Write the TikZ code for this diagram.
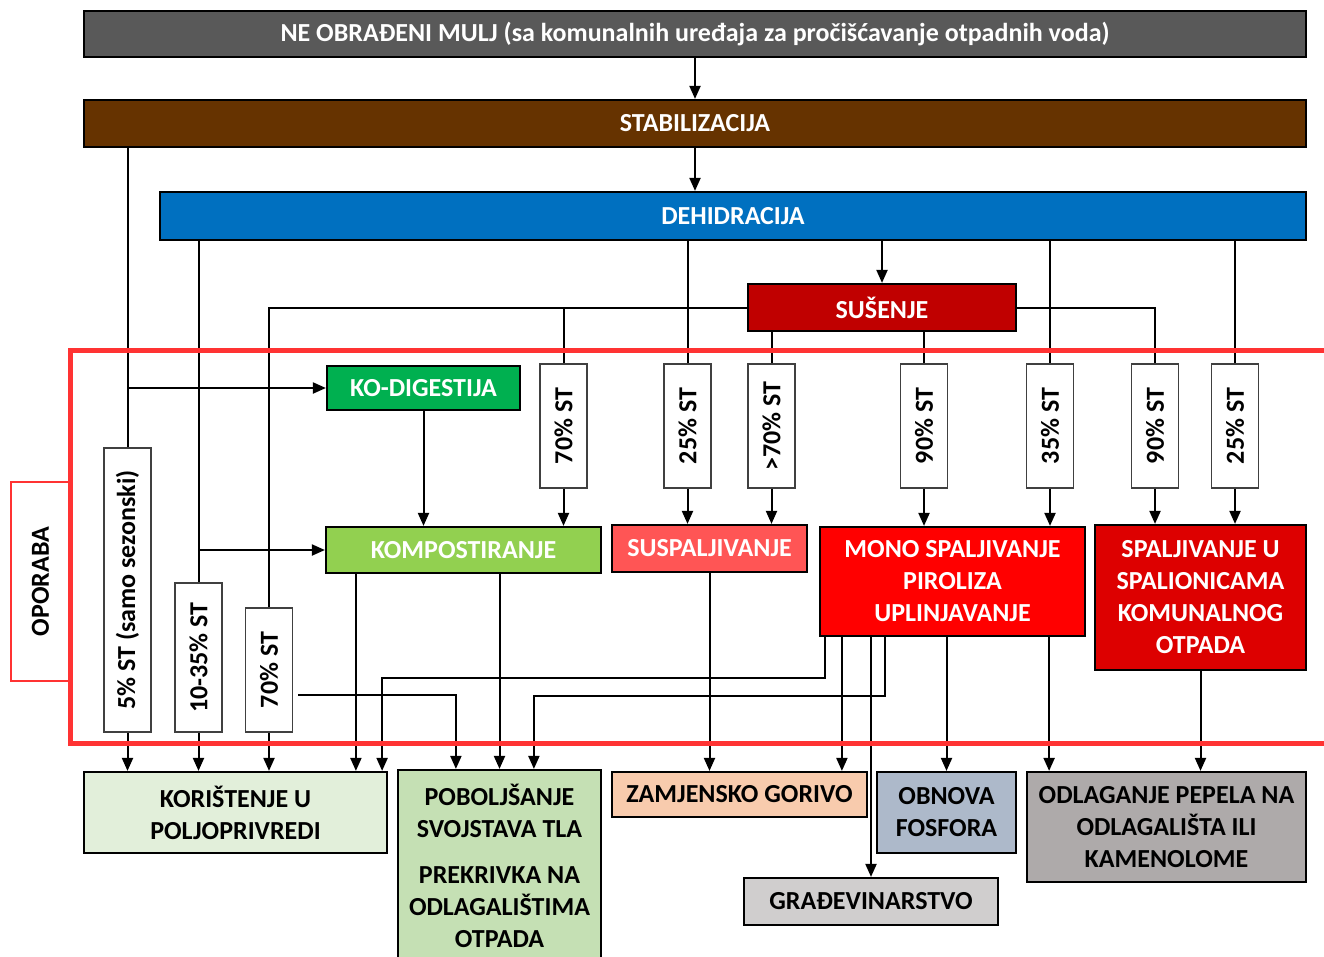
\documentclass[tikz,border=0pt]{standalone}
\usepackage{fontspec}
\setmainfont{Carlito}
\usepackage{graphicx}
\usetikzlibrary{positioning, arrows.meta}
\definecolor{mulj}{HTML}{595959}
\definecolor{stab}{HTML}{663300}
\definecolor{dehid}{HTML}{0070C0}
\definecolor{sus}{HTML}{C00000}
\definecolor{kodig}{HTML}{00B050}
\definecolor{komp}{HTML}{92D050}
\definecolor{susp}{HTML}{FF5555}
\definecolor{mono}{HTML}{FF0000}
\definecolor{spal}{HTML}{DD0000}
\definecolor{kor}{HTML}{E2EFDA}
\definecolor{pob}{HTML}{C5E0B4}
\definecolor{zam}{HTML}{F8CBAD}
\definecolor{obn}{HTML}{ADB9CA}
\definecolor{odl}{HTML}{AEAAAA}
\definecolor{gra}{HTML}{D0CECE}
\definecolor{frame}{HTML}{FF3333}
\tikzset{
    >={Triangle[width=11pt, length=13pt]}, % filled arrow heads
    every node/.style={font=\fontsize{26}{32}\selectfont\bfseries, align=center, inner sep=0pt}, % bold text everywhere
    box/.style={draw=black, line width=2.2pt, text=white}, % coloured process boxes
    outbox/.style={draw=black, line width=2.2pt, text=black}, % boxes at the bottom
    stbox/.style={draw=black!75, line width=1.3pt, fill=white, minimum width=47}, % small dry matter boxes
    link/.style={line width=2pt}, % connectors
}

\begin{document}
\begin{tikzpicture}[x=1pt, y=-1pt]
    \useasboundingbox (0,0) rectangle (1324,956);
    % main line
    \node[box, fill=mulj, minimum width=1222, minimum height=46] (mulj) at (695,34) {NE OBRAĐENI MULJ (sa komunalnih uređaja za pročišćavanje otpadnih voda)};
    \node[box, fill=stab, minimum width=1222, minimum height=47] (stab) at (695,123.5) {STABILIZACIJA};
    \node[box, fill=dehid, minimum width=1146, minimum height=48] (dehid) at (733,216) {DEHIDRACIJA};
    \node[box, fill=sus, minimum width=268, minimum height=47] (sus) at (882,307.5) {SUŠENJE};
    % treatment
    \node[box, fill=kodig, minimum width=193, minimum height=44] (kodig) at (423.5,388) {KO-DIGESTIJA};
    \node[box, fill=komp, minimum width=275, minimum height=46] (komp) at (463.5,550) {KOMPOSTIRANJE};
    \node[box, fill=susp, minimum width=195, minimum height=47] (susp) at (709.5,548.5) {SUSPALJIVANJE};
    \node[box, fill=mono, minimum width=265, minimum height=109] (mono) at (952.5,581.5) {MONO SPALJIVANJE\\PIROLIZA\\UPLINJAVANJE};
    \node[box, fill=spal, minimum width=211, minimum height=145] (spal) at (1200.5,597.5) {SPALJIVANJE U\\SPALIONICAMA\\KOMUNALNOG\\OTPADA};
    % dry matter
    \node[stbox, minimum height=284] (st5) at (127.5,590) {\rotatebox{90}{5\% ST (samo sezonski)}};
    \node[stbox, minimum height=149] (st1035) at (198.5,657.5) {\rotatebox{90}{10-35\% ST}};
    \node[stbox, minimum height=124] (st70a) at (269,670) {\rotatebox{90}{70\% ST}};
    \node[stbox, minimum height=124] (st70b) at (563.5,426) {\rotatebox{90}{70\% ST}};
    \node[stbox, minimum height=124] (st25a) at (687.5,426) {\rotatebox{90}{25\% ST}};
    \node[stbox, minimum height=124] (st70c) at (771.5,426) {\rotatebox{90}{>70\% ST}};
    \node[stbox, minimum height=124] (st90a) at (924,426) {\rotatebox{90}{90\% ST}};
    \node[stbox, minimum height=124] (st35) at (1050,426) {\rotatebox{90}{35\% ST}};
    \node[stbox, minimum height=124] (st90b) at (1155,426) {\rotatebox{90}{90\% ST}};
    \node[stbox, minimum height=124] (st25b) at (1235,426) {\rotatebox{90}{25\% ST}};
    % end use
    \node[outbox, fill=kor, minimum width=303, minimum height=81] (kor) at (235.5,812.5) {KORIŠTENJE U\\POLJOPRIVREDI};
    \node[outbox, fill=pob, minimum width=203, minimum height=192] (pob) at (499.5,866) {POBOLJŠANJE\\SVOJSTAVA TLA\\[14pt]PREKRIVKA NA\\ODLAGALIŠTIMA\\OTPADA};
    \node[outbox, fill=zam, minimum width=255, minimum height=45] (zam) at (739.5,794.5) {ZAMJENSKO GORIVO};
    \node[outbox, fill=obn, minimum width=139, minimum height=81] (obn) at (946.5,812.5) {OBNOVA\\FOSFORA};
    \node[outbox, fill=odl, minimum width=279, minimum height=110] (odl) at (1166.5,827) {ODLAGANJE PEPELA NA\\ODLAGALIŠTA ILI\\KAMENOLOME};
    \node[outbox, fill=gra, minimum width=254, minimum height=47] (gra) at (871,901.5) {GRAĐEVINARSTVO};
    \node[draw=frame, line width=1.5pt, minimum width=59, minimum height=199] (oporaba) at (40.5,581.5) {\rotatebox{90}{OPORABA}};

    % top part
    \draw[link, ->] (mulj.south) -- (stab.north);
    \draw[link, ->] (stab.south) -- (stab.south |- dehid.north);
    \draw[link, ->] (dehid.south -| sus.north) -- (sus.north);
    \draw[link] (stab.south -| st5.north) -- (st5.north);
    \draw[link, ->] (st5.north |- kodig.west) -- (kodig.west);
    \draw[link] (dehid.south -| st1035.north) -- (st1035.north);
    \draw[link, ->] (st1035.north |- komp.west) -- (komp.west);
    \draw[link] (sus.west) -| (st70a.north);
    \draw[link] (sus.west -| st70b.north) -- (st70b.north);
    \draw[link] (dehid.south -| st25a.north) -- (st25a.north);
    \draw[link] (sus.south -| st70c.north) -- (st70c.north);
    \draw[link] (sus.south -| st90a.north) -- (st90a.north);
    \draw[link] (dehid.south -| st35.north) -- (st35.north);
    \draw[link] (sus.east) -| (st90b.north);
    \draw[link] (dehid.south -| st25b.north) -- (st25b.north);
    % into treatment
    \draw[link, ->] (kodig.south) -- (kodig.south |- komp.north);
    \draw[link, ->] (st70b.south) -- (st70b.south |- komp.north);
    \draw[link, ->] (st25a.south) -- (st25a.south |- susp.north);
    \draw[link, ->] (st70c.south) -- (st70c.south |- susp.north);
    \draw[link, ->] (st90a.south) -- (st90a.south |- mono.north);
    \draw[link, ->] (st35.south) -- (st35.south |- mono.north);
    \draw[link, ->] (st90b.south) -- (st90b.south |- spal.north);
    \draw[link, ->] (st25b.south) -- (st25b.south |- spal.north);
    % to end use
    \draw[link, ->] (st5.south) -- (st5.south |- kor.north);
    \draw[link, ->] (st1035.south) -- (st1035.south |- kor.north);
    \draw[link, ->] (st70a.south) -- (st70a.south |- kor.north);
    \draw[link, ->] ([xshift=5, yshift=-25]st70a.east) -| ([xshift=59]pob.north west);
    \draw[link, ->] ([xshift=31]komp.south west) -- ([xshift=31]komp.south west |- kor.north);
    \draw[link, ->] (komp.south -| pob.north) -- (pob.north);
    \draw[link, ->] (susp.south) -- (susp.south |- zam.north);
    \draw[link, ->] ([xshift=6]mono.south west) -- ++(0,41) -| ([xshift=-6]kor.north east);
    \draw[link, ->] ([xshift=23]mono.south west) -- ([xshift=23]mono.south west |- zam.north);
    \draw[link, ->] (mono.south -| gra.north) -- (gra.north);
    \draw[link, ->] ([xshift=66]mono.south west) -- ++(0,59) -| ([xshift=137]pob.north west);
    \draw[link, ->] (mono.south -| obn.north) -- (obn.north);
    \draw[link, ->] ([xshift=-37]mono.south east) -- ([xshift=-37]mono.south east |- odl.north);
    \draw[link, ->] (spal.south) -- (spal.south |- odl.north);
    % recovery frame
    \draw[frame, line width=5pt] (70,350) rectangle (1345,743);
\end{tikzpicture}
\end{document}
